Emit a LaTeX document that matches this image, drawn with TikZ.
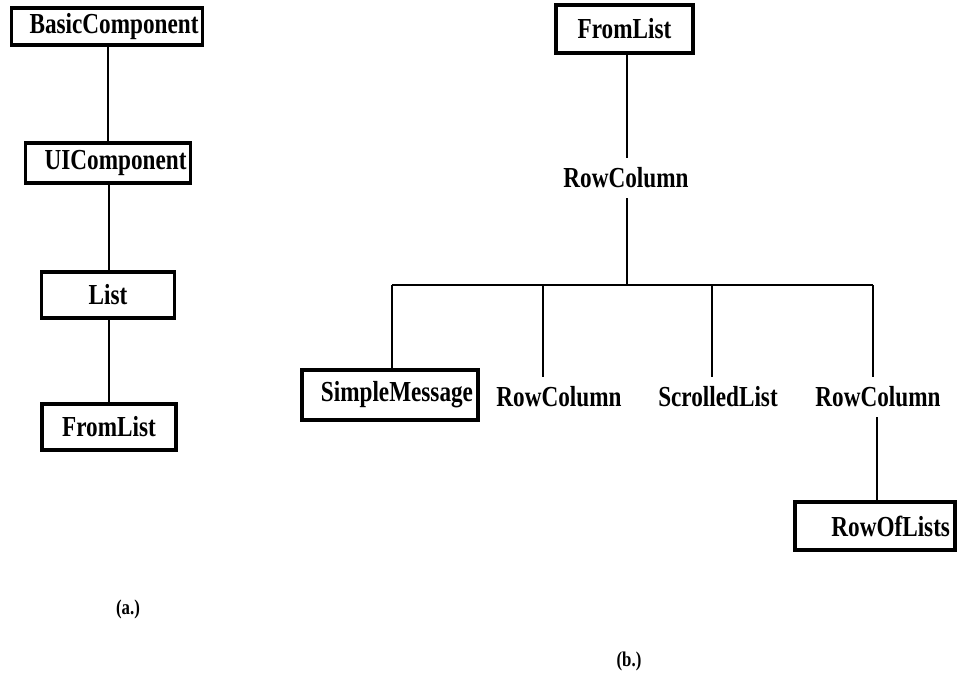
\documentclass[tikz,border=0pt]{standalone}
\usepackage{fontspec}
\setmainfont{Liberation Serif}[FakeStretch=0.8]
\begin{document}
\begin{tikzpicture}[x=1pt,y=-1pt,
  every node/.style={font=\fontsize{29}{31}\selectfont\bfseries, inner sep=0pt},
  box/.style={draw, line width=3.6pt, inner xsep=4pt, text width=#1, align=right, minimum height=40pt},
  lbl/.style={},
  conn/.style={line width=2.2pt},
  captext/.style={font=\fontsize{21}{23}\selectfont\bfseries}]
\useasboundingbox (0,0) rectangle (964,687);
% (a)
\node[box=183pt, minimum height=37pt] (a1) at (107,26.5) {BasicComponent};
\node[box=157pt] (a2) at (108,163) {UIComponent};
\node[box=125pt, minimum height=46pt, align=center] (a3) at (108,295) {List};
\node[box=126pt, minimum height=46pt, align=center] (a4) at (109,427) {FromList};
\draw[conn] (a1.south -| 108,0) -- (a2.north -| 108,0);
\draw[conn] (a2.south -| 109,0) -- (a3.north -| 109,0);
\draw[conn] (a3.south -| 109,0) -- (a4.north -| 109,0);
\node[captext] (la) at (128,609) {(a.)};
% (b)
\node[box=129pt, minimum height=48pt, align=center] (b1) at (624.5,29) {FromList};
\node[lbl, inner sep=10pt] (b2) at (626,178) {RowColumn};
\draw[conn] (b1.south -| 627,0) -- (b2.north -| 627,0);
\coordinate (c0) at (627,285);
\coordinate (c1) at (392,285);
\coordinate (c2) at (543,285);
\coordinate (c3) at (712,285);
\coordinate (c4) at (873,285);
\draw[conn] (b2.south -| c0) -- (c0);
\draw[conn] (c1) -- (c4);
\node[box=166pt, minimum height=50pt, inner xsep=5pt] (b3) at (390,395) {SimpleMessage};
\node[lbl, inner sep=10pt] (b4) at (559,397) {RowColumn};
\node[lbl, inner sep=10pt] (b5) at (718,397) {ScrolledList};
\node[lbl, inner sep=10pt] (b6) at (878,397) {RowColumn};
\node[box=150pt, minimum height=48pt, inner xsep=5pt] (b7) at (875,526) {RowOfLists};
\draw[conn] (c1) -- (c1 |- b3.north);
\draw[conn] (c2) -- (c2 |- b4.north);
\draw[conn] (c3) -- (c3 |- b5.north);
\draw[conn] (c4) -- (c4 |- b6.north);
\draw[conn] (b6.south -| 877,0) -- (b7.north -| 877,0);
\node[captext] (lb) at (629,661) {(b.)};
\end{tikzpicture}
\end{document}
